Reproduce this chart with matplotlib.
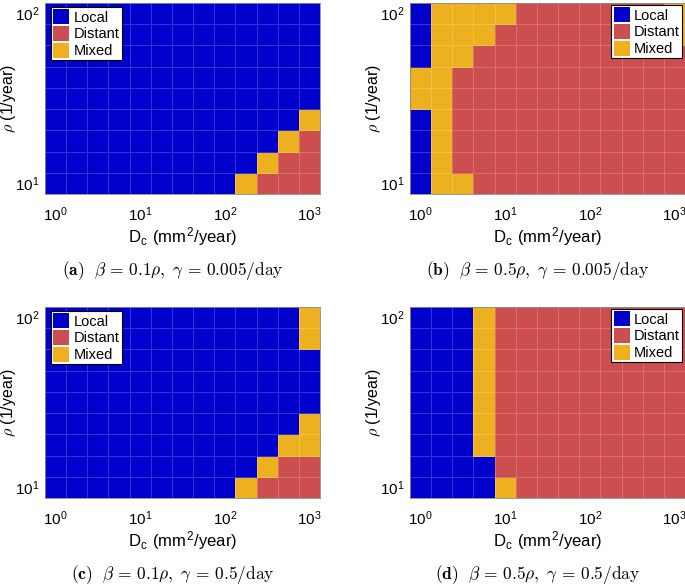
import matplotlib
matplotlib.use("Agg")
import matplotlib.pyplot as plt
import numpy as np
from matplotlib.colors import ListedColormap
from matplotlib.patches import Patch

plt.rcParams['font.family'] = ['Liberation Sans', 'DejaVu Sans']
plt.rcParams['mathtext.fontset'] = 'cm'

# parameter sweep (log10 of cell centres)
dc_exp = [0, 0.25, 0.5, 0.75, 1, 1.25, 1.5, 1.75, 2, 2.25, 2.5, 2.75, 3]
rho_exp = [1, 1.125, 1.25, 1.375, 1.5, 1.625, 1.75, 1.875, 2]

labels = ['Local', 'Distant', 'Mixed']
colors = ['#0000CC', '#CC4E4E', '#EDB120']
code = {'L': 0, 'D': 1, 'M': 2}

# outcome maps, rows listed from top (rho=100) to bottom (rho=10)
map_a = ["LLLLLLLLLLLLL",
         "LLLLLLLLLLLLL",
         "LLLLLLLLLLLLL",
         "LLLLLLLLLLLLL",
         "LLLLLLLLLLLLL",
         "LLLLLLLLLLLLM",
         "LLLLLLLLLLLMD",
         "LLLLLLLLLLMDD",
         "LLLLLLLLLMDDD"]
map_b = ["LMMMMDDDDDDDM",
         "LMMMDDDDDDDDM",
         "LMMDDDDDDDDDD",
         "MMDDDDDDDDDDD",
         "MMDDDDDDDDDDD",
         "LMDDDDDDDDDDD",
         "LMDDDDDDDDDDD",
         "LMDDDDDDDDDDD",
         "LMMDDDDDDDDDD"]
map_c = ["LLLLLLLLLLLLM",
         "LLLLLLLLLLLLM",
         "LLLLLLLLLLLLL",
         "LLLLLLLLLLLLL",
         "LLLLLLLLLLLLL",
         "LLLLLLLLLLLLM",
         "LLLLLLLLLLLMM",
         "LLLLLLLLLLMDD",
         "LLLLLLLLLMDDD"]
map_d = ["LLLMDDDDDDDDD",
         "LLLMDDDDDDDDD",
         "LLLMDDDDDDDDD",
         "LLLMDDDDDDDDD",
         "LLLMDDDDDDDDD",
         "LLLMDDDDDDDDD",
         "LLLMDDDDDDDDD",
         "LLLLDDDDDDDDD",
         "LLLLMDDDDDDDD"]

captions = [r"$\mathbf{(a)}\ \ \beta\,=\,0.1\rho,\ \gamma\,=\,0.005/\mathrm{day}$",
            r"$\mathbf{(b)}\ \ \beta\,=\,0.5\rho,\ \gamma\,=\,0.005/\mathrm{day}$",
            r"$\mathbf{(c)}\ \ \beta\,=\,0.1\rho,\ \gamma\,=\,0.5/\mathrm{day}$",
            r"$\mathbf{(d)}\ \ \beta\,=\,0.5\rho,\ \gamma\,=\,0.5/\mathrm{day}$"]


def edges(centres):
    c = np.array(centres, dtype=float)
    h = (c[1] - c[0]) / 2
    return 10 ** np.append(c - h, c[-1] + h)


W, H = 685, 586
fig = plt.figure(figsize=(W / 100, H / 100), dpi=100)
cmap = ListedColormap(colors)
xe = edges(dc_exp)
ye = edges(rho_exp)

panels = [(map_a, 45, 3, 'upper left'),
          (map_b, 410, 3, 'upper right'),
          (map_c, 45, 307, 'upper left'),
          (map_d, 410, 307, 'upper right')]
aw, ah = 275, 191

for i, (m, px, py, loc) in enumerate(panels):
    ax = fig.add_axes([px / W, (H - py - ah) / H, aw / W, ah / H])
    z = np.array([[code[ch] for ch in row] for row in m[::-1]])
    ax.pcolormesh(xe, ye, z, cmap=cmap, vmin=-0.5, vmax=2.5,
                  edgecolors=(1, 1, 1, 0.2), linewidth=0.6)
    ax.set_xscale('log')
    ax.set_yscale('log')
    ax.set_xlim(xe[0], xe[-1])
    ax.set_ylim(ye[0], ye[-1])
    ax.set_xticks([1, 10, 100, 1000])
    ax.set_yticks([10, 100])
    ax.minorticks_off()
    ax.tick_params(length=0, labelsize=11)
    ax.tick_params(axis='x', pad=8)
    ax.tick_params(axis='y', pad=4)
    for s in ax.spines.values():
        s.set_color('#888888')
        s.set_linewidth(0.6)
    ax.set_xlabel(r'D$_{\mathdefault{c}}$ (mm$^{\mathdefault{2}}$/year)', fontsize=12, labelpad=1)
    ax.set_ylabel(r'$\rho$ (1/year)', fontsize=11.5)
    ax.yaxis.set_label_coords(-27 / aw, 0.5)
    handles = [Patch(facecolor=c, edgecolor='none') for c in colors]
    if loc == 'upper left':
        anchor = (6 / aw, 1 - 4 / ah)
    else:
        anchor = (1 - 3 / aw, 1 - 2 / ah)
    lg = ax.legend(handles, labels, loc=loc, bbox_to_anchor=anchor, borderaxespad=0,
                   fontsize=10.5, fancybox=False, framealpha=1, edgecolor='black',
                   handlelength=1.1, handleheight=1.2, labelspacing=0.1,
                   handletextpad=0.3, borderpad=0.15)
    lg.get_frame().set_linewidth(0.8)
    fig.text((px + aw / 2 - 10) / W, 1 - (py + 267) / H, captions[i],
             ha='center', va='center', fontsize=12.5)

fig.savefig('out.png', dpi=100)
